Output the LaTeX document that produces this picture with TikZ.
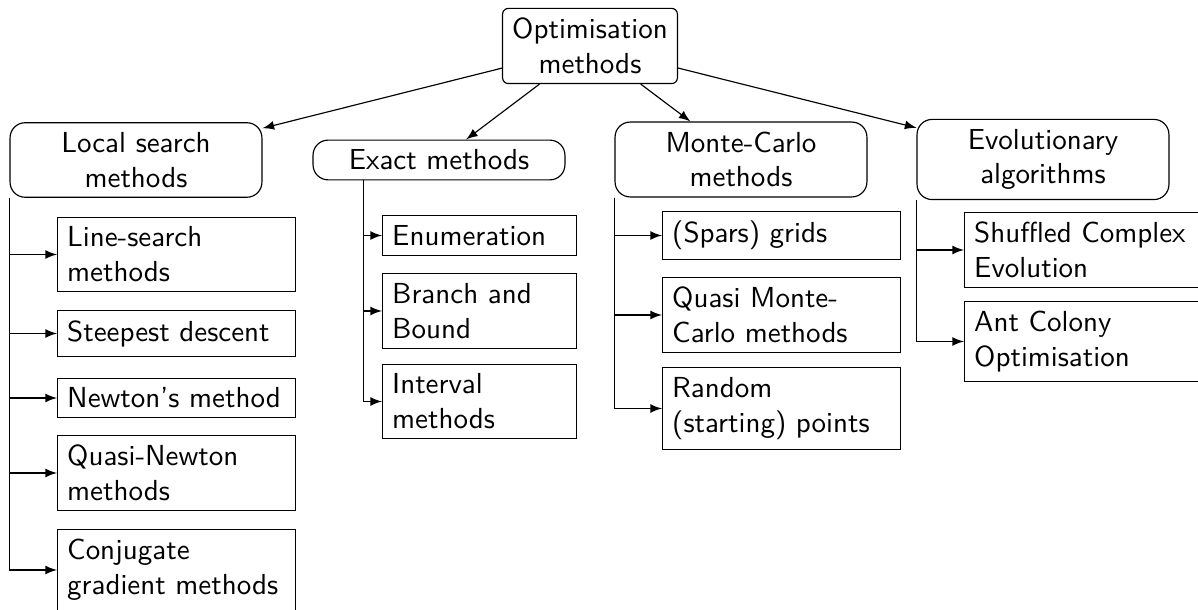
\documentclass[tikz,border=0pt]{standalone}
\usetikzlibrary{arrows}
\newcommand\nohyph{\hyphenpenalty=10000 \exhyphenpenalty=10000\relax}
\begin{document}
\begin{tikzpicture}[x=0.345pt,y=-0.345pt,
  font=\sffamily\nohyph, line width=0.4pt,
  topbox/.style={draw, rounded corners=2pt, align=center, inner sep=3.33pt},
  parent/.style={draw, rounded corners=5.2pt, align=center, minimum width=86.9pt, inner sep=3.33pt},
  childw/.style={draw, rectangle, anchor=west, text width=75.4pt, align=left, inner sep=3.33pt},
  childn/.style={draw, rectangle, anchor=west, text width=60.3pt, align=left, inner sep=3.33pt},
  arr/.style={->, >=latex}]
\path[use as bounding box] (0,0) rectangle (1198,610);

\node[topbox] (top) at (590,46) {Optimisation\\methods};

\node[parent] (local) at (136,160) {Local search\\methods};
\node[parent] (exact) at (439,160) {Exact methods};
\node[parent] (mc) at (741,159.5) {Monte-Carlo\\methods};
\node[parent] (evo) at (1043,159.5) {Evolutionary\\algorithms};

\draw[arr] (top) -- (local);
\draw[arr] (top) -- (exact);
\draw[arr] (top) -- (mc);
\draw[arr] (top) -- (evo);

% local search children
\node[childw] (ls) at (57,254.5) {Line-search\\methods};
\node[childw] (sd) at (57,333.5) {Steepest descent};
\node[childw] (nm) at (57,398) {Newton's method};
\node[childw] (qn) at (57,473) {Quasi-Newton\\methods};
\node[childw] (cg) at (57,570) {Conjugate\\gradient methods};

\draw[arr] (local.south west) |- (ls.west);
\draw[arr] (local.south west) |- (sd.west);
\draw[arr] (local.south west) |- (nm.west);
\draw[arr] (local.south west) |- (qn.west);
\draw[arr] (local.south west) |- (cg.west);

% exact children
\node[childn] (en) at (382,235.5) {Enumeration};
\node[childn] (bb) at (382,311) {Branch and\\Bound};
\node[childn] (iv) at (382,401.5) {Interval\\methods};

\coordinate (exs) at ([xshift=17.6pt]exact.south west);
\draw[arr] (exs) |- (en.west);
\draw[arr] (exs) |- (bb.west);
\draw[arr] (exs) |- (iv.west);

% monte carlo children
\node[childw] (sg) at (662,235.5) {(Spars) grids};
\node[childw] (qmc) at (662,315) {Quasi Monte-\\Carlo methods};
\node[childw] (rp) at (662,408.5) {Random\\(starting) points};

\draw[arr] (mc.south west) |- (sg.west);
\draw[arr] (mc.south west) |- (qmc.west);
\draw[arr] (mc.south west) |- (rp.west);

% evolutionary children
\node[childw] (sce) at (964,250) {Shuffled Complex\\Evolution};
\node[childw] (aco) at (964,341.5) {Ant Colony\\Optimisation};

\draw[arr] (evo.south west) |- (sce.west);
\draw[arr] (evo.south west) |- (aco.west);
\end{tikzpicture}
\end{document}
